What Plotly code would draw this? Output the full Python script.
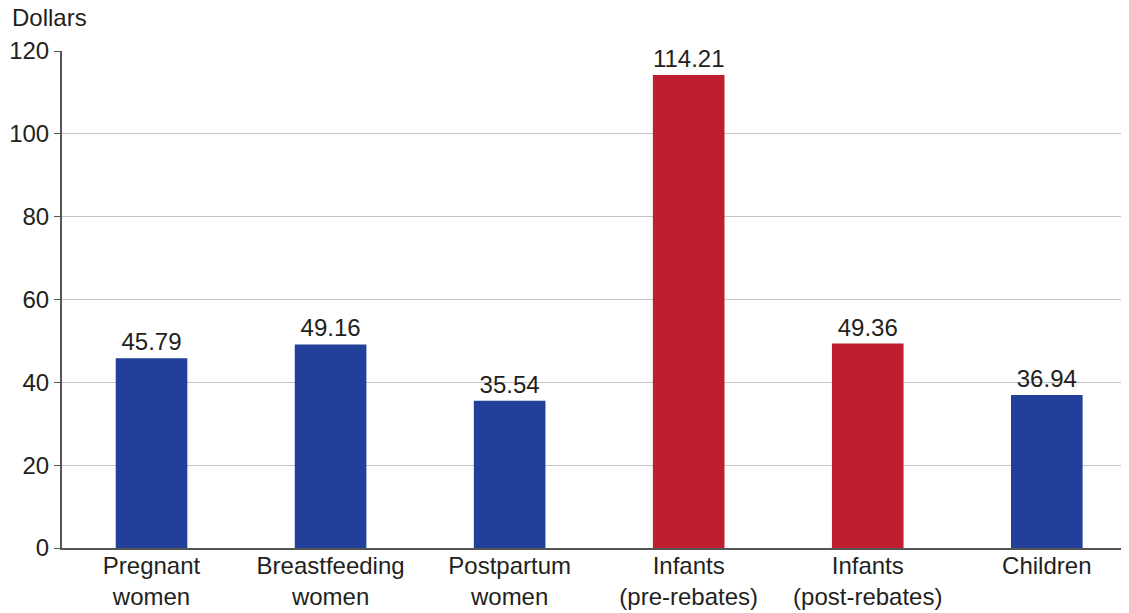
import plotly.graph_objects as go

categories = ["Pregnant<br>women", "Breastfeeding<br>women", "Postpartum<br>women",
              "Infants<br>(pre-rebates)", "Infants<br>(post-rebates)", "Children"]
values = [45.79, 49.16, 35.54, 114.21, 49.36, 36.94]
labels = ["45.79", "49.16", "35.54", "114.21", "49.36", "36.94"]
bar_colors = ["#22409a", "#22409a", "#22409a", "#be1e2d", "#be1e2d", "#22409a"]
y_ticks = [0, 20, 40, 60, 80, 100, 120]

font_family = "Liberation Sans, Arial, Helvetica, sans-serif"
text_color = "#231f20"

fig = go.Figure()
fig.add_trace(go.Bar(
    x=list(range(len(categories))), y=values,
    width=0.4,
    marker=dict(color=bar_colors, line=dict(width=0)),
    text=labels, textposition="outside", cliponaxis=False,
    textfont=dict(size=24, color=text_color, family=font_family),
))

# page body has an 8px margin, so the figure is sized to fit what's left
fig.update_layout(
    width=1121, height=605,
    margin=dict(l=54, r=7, t=43, b=65, autoexpand=False),
    paper_bgcolor="white", plot_bgcolor="white",
    showlegend=False,
    font=dict(family=font_family, size=24, color=text_color),
    xaxis=dict(
        tickmode="array", tickvals=list(range(len(categories))), ticktext=categories,
        range=[-0.5, 5.42], showgrid=False, showline=True, linecolor="#555555",
        linewidth=2, ticks="", tickfont=dict(size=24, color=text_color),
        automargin=False, ticklabelstandoff=-5,
    ),
    yaxis=dict(
        range=[0, 120], tickvals=y_ticks, showgrid=True, gridcolor="#c4c4c4",
        gridwidth=1, showline=True, linecolor="#555555", linewidth=2,
        ticks="outside", ticklen=6, tickcolor="#555555", zeroline=False,
        tickfont=dict(size=24, color=text_color), automargin=False,
    ),
    annotations=[dict(
        text="Dollars", xref="paper", yref="paper", x=-0.049, y=1 + 33 / 497,
        xanchor="left", yanchor="middle", showarrow=False,
        font=dict(size=24, color=text_color),
    )],
)

fig.write_html("out.html")
